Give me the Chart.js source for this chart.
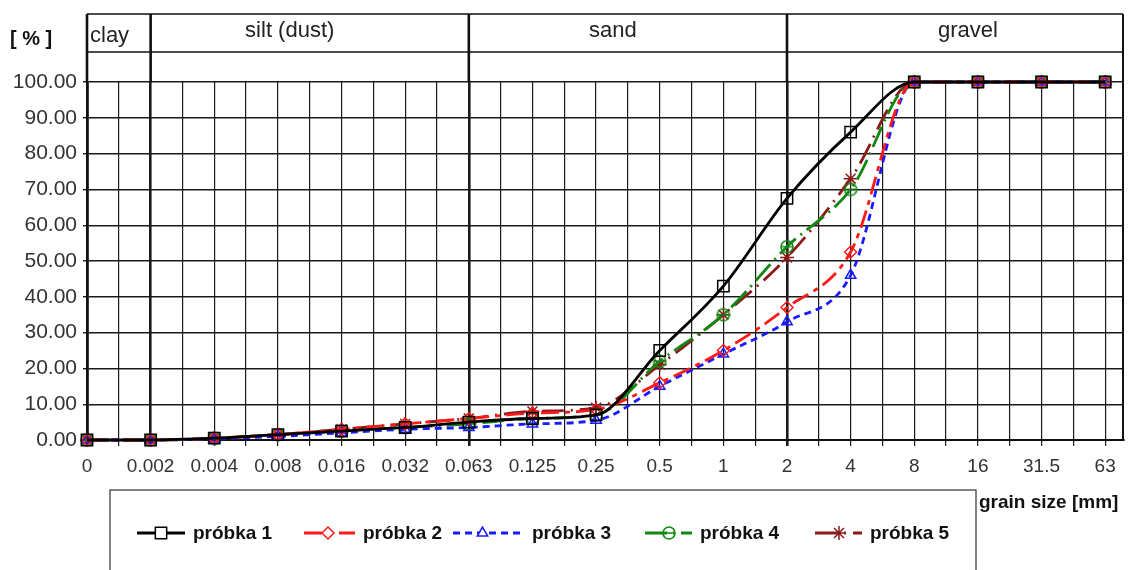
<!DOCTYPE html>
<html>
<head>
<meta charset="utf-8">
<script src="https://cdn.jsdelivr.net/npm/chart.js@4/dist/chart.umd.min.js"></script>
<style>
  html, body { margin: 0; padding: 0; background: #fff; }
  #wrap { width: 1128px; height: 570px; }
</style>
</head>
<body>
<div id="wrap"><canvas id="chart" width="1128" height="570"></canvas></div>
<script>
// grain size classes (category axis, equally spaced)
const categories = ['0', '0.002', '0.004', '0.008', '0.016', '0.032', '0.063', '0.125', '0.25', '0.5', '1', '2', '4', '8', '16', '31.5', '63'];

// passing percentage per sample
const probka1 = [0, 0, 0.5, 1.5, 2.5, 3.5, 5, 6, 7, 25, 43, 67.5, 86, 100, 100, 100, 100];
const probka2 = [0, 0, 0.5, 1.5, 3, 4.5, 6, 7.5, 8.5, 16, 25, 37, 52.5, 100, 100, 100, 100];
const probka3 = [0, 0, 0.3, 1, 2, 3, 3.5, 4.5, 5.5, 15, 24, 33, 46, 100, 100, 100, 100];
const probka4 = [0, 0, 0.5, 1.5, 2.5, 3.5, 4.5, 6, 7, 22, 35, 54, 70, 100, 100, 100, 100];
const probka5 = [0, 0, 0.5, 1.5, 3, 4.5, 6, 8, 9, 21, 35, 51, 73, 100, 100, 100, 100];

const yTicks = [0, 10, 20, 30, 40, 50, 60, 70, 80, 90, 100];

// soil fraction bands: label + category index where the band starts/ends
const X_MAX = 16.28;
const bands = [
  { label: 'clay', from: 0, to: 1, shift: 0, align: 'left' },
  { label: 'silt (dust)', from: 1, to: 6, shift: -20 },
  { label: 'sand', from: 6, to: 11, shift: -15 },
  { label: 'gravel', from: 11, to: X_MAX, shift: 13 }
];
const thickLines = [0, 1, 6, 11];

const FONT = '"Liberation Sans", Arial, sans-serif';

// circle with a horizontal bar, like the green marker
function crossedCircle(color) {
  const c = document.createElement('canvas');
  c.width = 16; c.height = 16;
  const g = c.getContext('2d');
  g.strokeStyle = color;
  g.lineWidth = 1.6;
  g.beginPath();
  g.arc(8, 8, 6, 0, Math.PI * 2);
  g.moveTo(2, 8); g.lineTo(14, 8);
  g.stroke();
  return c;
}

const toPoints = arr => arr.map((v, i) => ({ x: i, y: v }));

const series = [
  { label: 'próbka 1', data: probka1, color: '#000000', dash: [], point: 'rect', radius: 8 },
  { label: 'próbka 2', data: probka2, color: '#ff1a1a', dash: [18, 6, 5, 6], point: 'rectRot', radius: 6 },
  { label: 'próbka 3', data: probka3, color: '#1a1aff', dash: [7, 5], point: 'triangle', radius: 6 },
  { label: 'próbka 4', data: probka4, color: '#118811', dash: [22, 6, 2, 6], point: crossedCircle('#118811'), radius: 7 },
  { label: 'próbka 5', data: probka5, color: '#8b1a1a', dash: [22, 7, 2, 7], point: 'star', radius: 7 }
];

const datasets = series.map(s => ({
  label: s.label,
  data: toPoints(s.data),
  borderColor: s.color,
  borderWidth: 2.8,
  borderDash: s.dash,
  pointStyle: s.point,
  pointRadius: s.radius,
  pointBorderColor: s.color,
  pointBorderWidth: 1.5,
  pointBackgroundColor: 'rgba(255,255,255,0)',
  cubicInterpolationMode: 'monotone',
  clip: false,
  fill: false
}));

// header, axis titles and the boxed legend
const extras = {
  id: 'extras',
  afterDraw(chart) {
    const ctx = chart.ctx;
    const x = chart.scales.x;
    const area = chart.chartArea;
    const top = 14, mid = 52;
    ctx.save();
    ctx.strokeStyle = '#111';
    ctx.lineWidth = 1.5;
    ctx.beginPath();
    ctx.moveTo(area.left, top); ctx.lineTo(area.right, top);
    ctx.moveTo(area.left, mid); ctx.lineTo(area.right, mid);
    ctx.stroke();
    ctx.lineWidth = 2;
    ctx.beginPath();
    ctx.moveTo(area.right, top); ctx.lineTo(area.right, area.bottom);
    ctx.stroke();
    ctx.lineWidth = 2.6;
    ctx.beginPath();
    thickLines.forEach(v => {
      const px = x.getPixelForValue(v);
      ctx.moveTo(px, top); ctx.lineTo(px, area.top);
    });
    ctx.stroke();

    ctx.fillStyle = '#222';
    ctx.font = '22px ' + FONT;
    ctx.textBaseline = 'middle';
    bands.forEach(b => {
      const l = x.getPixelForValue(b.from), r = x.getPixelForValue(b.to);
      if (b.align === 'left') {
        ctx.textAlign = 'left';
        ctx.fillText(b.label, l + 3, 36);
      } else {
        ctx.textAlign = 'center';
        ctx.fillText(b.label, (l + r) / 2 + b.shift, 31);
      }
    });

    ctx.fillStyle = '#111';
    ctx.font = 'bold 20px ' + FONT;
    ctx.textAlign = 'left';
    ctx.fillText('[ % ]', 10, 39);
    ctx.font = 'bold 19px ' + FONT;
    ctx.fillText('grain size [mm]', 979, 503);

    // legend box
    ctx.strokeStyle = '#333';
    ctx.lineWidth = 1.2;
    ctx.strokeRect(110, 490, 866, 100);
    const starts = [137, 304, 453, 645, 815];
    const texts = [193, 363, 532, 700, 870];
    ctx.font = 'bold 19px ' + FONT;
    chart.data.datasets.forEach((ds, i) => {
      const sx = starts[i], ex = texts[i] - 8, sy = 533;
      const mx = i === 2 ? (sx + ex) / 2 - 6 : sx + 24;
      ctx.strokeStyle = ds.borderColor;
      ctx.lineWidth = 2.8;
      ctx.setLineDash(ds.borderDash);
      ctx.beginPath();
      ctx.moveTo(sx, sy); ctx.lineTo(ex, sy);
      ctx.stroke();
      ctx.setLineDash([]);
      ctx.lineWidth = 1.5;
      ctx.fillStyle = '#fff';
      Chart.helpers.drawPoint(ctx, {
        pointStyle: ds.pointStyle, radius: ds.pointRadius, borderWidth: 1.5, rotation: 0
      }, mx, sy);
      ctx.fillStyle = '#111';
      ctx.textAlign = 'left';
      ctx.fillText(ds.label, texts[i], sy + 1);
    });
    ctx.restore();
  }
};

new Chart(document.getElementById('chart'), {
  type: 'line',
  data: { datasets },
  options: {
    responsive: false,
    animation: false,
    layout: { autoPadding: false, padding: { top: 82, right: 5, bottom: 90, left: 0 } },
    plugins: { legend: { display: false }, tooltip: { enabled: false } },
    scales: {
      x: {
        type: 'linear',
        min: 0,
        max: X_MAX,
        afterFit: s => { s.height = 40; s.paddingRight = 0; s.paddingLeft = 0; },
        afterBuildTicks: s => {
          const t = [];
          for (let v = 0; v <= 16; v += 0.5) t.push({ value: v });
          s.ticks = t;
        },
        ticks: {
          autoSkip: false,
          maxRotation: 0,
          padding: 9,
          color: '#333',
          font: { family: FONT, size: 19 },
          callback: v => Number.isInteger(v) ? categories[v] : ''
        },
        grid: {
          color: '#1a1a1a',
          lineWidth: c => thickLines.includes(c.tick && c.tick.value) ? 2.6 : 1.2,
          tickLength: 6,
          drawTicks: true
        },
        border: { color: '#111', width: 2 }
      },
      y: {
        min: 0,
        max: 100,
        afterFit: s => { s.width = 87; s.paddingTop = 0; s.paddingBottom = 0; },
        afterBuildTicks: s => { s.ticks = yTicks.map(v => ({ value: v })); },
        ticks: {
          padding: 6,
          color: '#333',
          font: { family: FONT, size: 21 },
          callback: v => v.toFixed(2)
        },
        grid: { color: '#1a1a1a', lineWidth: 1.4, tickLength: 4 },
        border: { color: '#111', width: 2.6 }
      }
    }
  },
  plugins: [extras]
});
</script>
</body>
</html>
